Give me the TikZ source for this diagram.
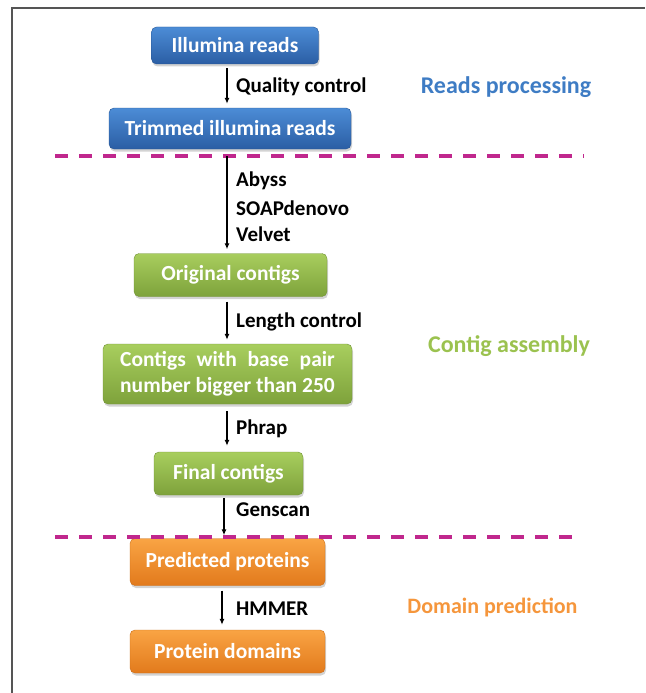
\documentclass[tikz,border=0pt]{standalone}
\usepackage{fontspec}
\usepackage{calc}
\setmainfont{Carlito}
\usetikzlibrary{arrows.meta,shadows,calc}
\definecolor{blueT}{HTML}{4C8CD6}
\definecolor{blueB}{HTML}{2B5EA4}
\definecolor{greenT}{HTML}{A8CE5E}
\definecolor{greenB}{HTML}{7EA23B}
\definecolor{orangeT}{HTML}{F9A444}
\definecolor{orangeB}{HTML}{E27A1C}
\definecolor{blueTxt}{HTML}{3E7CC4}
\definecolor{greenTxt}{HTML}{9BC24F}
\definecolor{orangeTxt}{HTML}{F5963C}
\definecolor{magentaL}{HTML}{C0278D}
\definecolor{frameC}{HTML}{555555}
\tikzset{
  x=1pt, y=-1pt,
  boxbase/.style={rounded corners=5pt, inner sep=0pt, text=white,
    font=\fontsize{21.5}{26}\selectfont\bfseries,
    drop shadow={shadow xshift=1pt, shadow yshift=-2.5pt, opacity=0.35}},
  bluebox/.style={boxbase, top color=blueT, bottom color=blueB, draw=blueB!90!black, line width=0.4pt},
  greenbox/.style={boxbase, top color=greenT, bottom color=greenB, draw=greenB!90!black, line width=0.4pt},
  orangebox/.style={boxbase, top color=orangeT, bottom color=orangeB, draw=orangeB!90!black, line width=0.4pt},
  steplabel/.style={anchor=west, inner sep=0pt, font=\fontsize{21}{24}\selectfont\bfseries},
  sectlabel/.style={inner sep=0pt, font=\fontsize{24}{28}\selectfont\bfseries},
  arr/.style={-{Latex[length=6pt,width=5pt]}, line width=1.6pt, black},
  sepline/.style={line width=4pt, magentaL, dash pattern=on 12.5pt off 11.5pt},
  framel/.style={line width=1.2pt, frameC}
}
\begin{document}
\begin{tikzpicture}
\useasboundingbox (0,0) rectangle (645,693);
% frame
\coordinate (fa) at (12,693);
\coordinate (fb) at (12,8);
\coordinate (fc) at (645,8);
\draw[framel] (fa) -- (fb) -- (fc);

% boxes
\node[bluebox, minimum width=167pt, minimum height=37pt] (ill) at (235,45.5) {Illumina reads};
\node[bluebox, minimum width=242pt, minimum height=41pt] (trim) at (230,128.5) {Trimmed illumina reads};
\node[greenbox, minimum width=193pt, minimum height=43pt] (orig) at (230.5,275) {Original contigs};
\node[greenbox, minimum width=249pt, minimum height=60pt, align=center] (cont) at (227.5,374)
  {\makebox[\widthof{number bigger than 250}][s]{Contigs with base pair}\\number bigger than 250};
\node[greenbox, minimum width=149pt, minimum height=43pt] (fin) at (228.5,473.5) {Final contigs};
\node[orangebox, minimum width=195pt, minimum height=47pt] (pred) at (227.5,562) {Predicted proteins};
\node[orangebox, minimum width=195pt, minimum height=43pt] (dom) at (227.5,651.5) {Protein domains};

% separators
\coordinate (s1a) at (55,156);
\coordinate (s1b) at (584,156);
\coordinate (s2a) at (55,537);
\coordinate (s2b) at (572,537);
\draw[sepline] (s1a) -- (s1b);
\draw[sepline] (s2a) -- (s2b);

% arrows
\coordinate (ax) at (227,0);
\coordinate (bx) at (224,0);
\coordinate (cx) at (222,0);
\draw[arr] ([yshift=-4pt]ill.south -| ax) -- ([yshift=4pt]trim.north -| ax);
\draw[arr] ([yshift=-7pt]trim.south -| ax) -- ([yshift=4pt]orig.north -| ax);
\draw[arr] ([yshift=-5pt]orig.south -| ax) -- ([yshift=4pt]cont.north -| ax);
\draw[arr] ([yshift=-7pt]cont.south -| ax) -- ([yshift=6pt]fin.north -| ax);
\draw[arr] ([yshift=-3pt]fin.south -| bx) -- ([yshift=3pt]pred.north -| bx);
\draw[arr] ([yshift=-5pt]pred.south -| cx) -- ([yshift=5pt]dom.north -| cx);

% step labels
\node[steplabel] (lq) at (236,87) {Quality control};
\node[steplabel] (la) at (236,181) {Abyss};
\node[steplabel] (ls) at (236,208) {SOAPdenovo};
\node[steplabel] (lv) at (236,234) {Velvet};
\node[steplabel] (ll) at (236,322) {Length control};
\node[steplabel] (lp) at (236,429) {Phrap};
\node[steplabel] (lg) at (236,510) {Genscan};
\node[steplabel] (lh) at (236,609) {HMMER};

% section labels
\node[sectlabel, text=blueTxt] (t1) at (506,87) {Reads processing};
\node[sectlabel, text=greenTxt] (t2) at (509,346) {Contig assembly};
\node[sectlabel, text=orangeTxt, font=\fontsize{22}{26}\selectfont\bfseries] (t3) at (492.5,607) {Domain prediction};
\end{tikzpicture}
\end{document}
